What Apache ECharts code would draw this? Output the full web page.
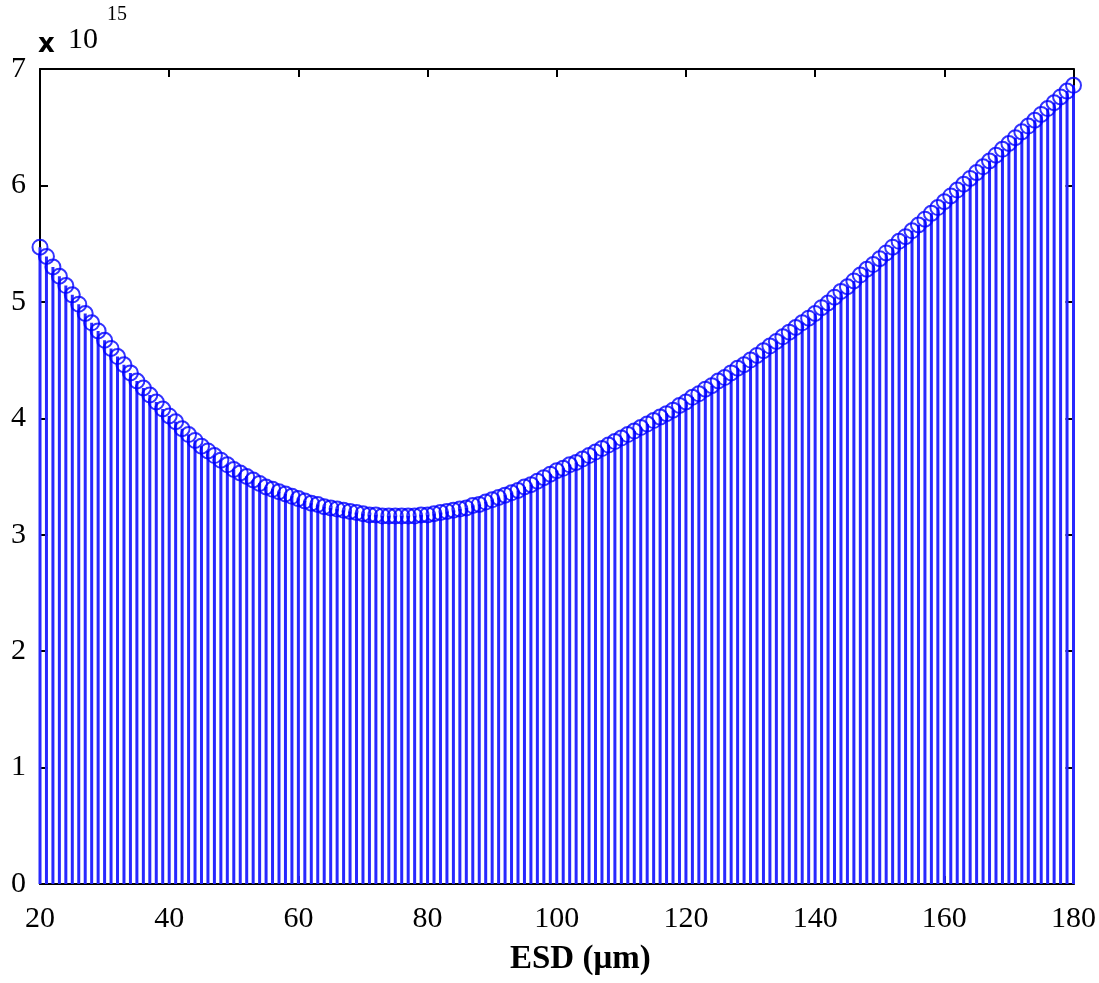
<!DOCTYPE html>
<html>
<head>
<meta charset="utf-8">
<title>ESD stem plot</title>
<script src="https://cdn.jsdelivr.net/npm/echarts@6/dist/echarts.min.js"></script>
<style>
html,body{margin:0;padding:0;background:#fff;}
#chart{width:1099px;height:983px;}
</style>
</head>
<body>
<div id="chart"></div>
<script>
// ESD (um) from 20 to 180, one stem per micron
var esdStart = 20;
// values in units of 10^15
var values = [
 5.47,5.39,5.30,5.22,5.14,5.06,4.98,4.90,4.82,4.75,
 4.67,4.60,4.53,4.46,4.39,4.32,4.26,4.20,4.14,4.08,
 4.02,3.97,3.91,3.86,3.81,3.76,3.72,3.68,3.64,3.60,
 3.56,3.53,3.50,3.47,3.44,3.41,3.39,3.37,3.35,3.33,
 3.31,3.29,3.27,3.26,3.24,3.23,3.22,3.21,3.20,3.19,
 3.18,3.17,3.17,3.16,3.16,3.16,3.16,3.16,3.16,3.17,
 3.17,3.18,3.19,3.20,3.21,3.22,3.23,3.25,3.26,3.28,
 3.30,3.32,3.34,3.36,3.38,3.41,3.43,3.46,3.49,3.52,
 3.55,3.57,3.60,3.62,3.65,3.68,3.71,3.74,3.77,3.80,
 3.83,3.86,3.89,3.92,3.95,3.98,4.01,4.04,4.07,4.11,
 4.14,4.18,4.21,4.25,4.28,4.32,4.35,4.39,4.43,4.46,
 4.50,4.54,4.58,4.62,4.66,4.70,4.74,4.78,4.82,4.86,
 4.90,4.95,4.99,5.04,5.09,5.13,5.18,5.23,5.28,5.32,
 5.37,5.42,5.47,5.52,5.56,5.61,5.66,5.71,5.76,5.81,
 5.86,5.91,5.96,6.01,6.06,6.11,6.16,6.21,6.26,6.31,
 6.36,6.41,6.46,6.51,6.56,6.61,6.66,6.71,6.76,6.81,
 6.86
];
var xTicks = [20,40,60,80,100,120,140,160,180];
var yTicks = [0,1,2,3,4,5,6,7];
var exponent = '15';
var xTitle = 'ESD (\u03bcm)';

var pts = [];
for (var i = 0; i < values.length; i++) {
  pts.push([esdStart + i, values[i]]);
}

var myChart = echarts.init(document.getElementById('chart'));
var fnt = 'Liberation Serif';
var axisLine = {show:true, onZero:false, lineStyle:{color:'#000', width:2}};
var tick = {show:true, inside:true, length:8, lineStyle:{color:'#000', width:2}};
var lbl = {color:'#000', fontFamily:fnt, fontSize:30};
var option = {
  animation:false,
  grid:{left:40, right:25, top:69, bottom:99, containLabel:false},
  xAxis:[
    {type:'value', min:xTicks[0], max:xTicks[xTicks.length-1], interval:20,
     axisLine:axisLine, axisTick:tick,
     axisLabel:Object.assign({margin:20}, lbl),
     splitLine:{show:false}},
    {type:'value', position:'top', min:xTicks[0], max:xTicks[xTicks.length-1], interval:20,
     axisLine:axisLine, axisTick:tick,
     axisLabel:{show:false}, splitLine:{show:false}}
  ],
  yAxis:[
    {type:'value', min:yTicks[0], max:yTicks[yTicks.length-1], interval:1,
     axisLine:axisLine, axisTick:tick,
     axisLabel:Object.assign({margin:14}, lbl),
     splitLine:{show:false}},
    {type:'value', position:'right', min:yTicks[0], max:yTicks[yTicks.length-1], interval:1,
     axisLine:axisLine, axisTick:tick,
     axisLabel:{show:false}, splitLine:{show:false}}
  ],
  graphic:[
    {type:'text', left:38, top:32, style:{text:'x', font:'bold 26px "DejaVu Sans"', fill:'#000'}},
    {type:'text', left:68, top:25, style:{text:'10', font:'30px "Liberation Serif"', fill:'#000'}},
    {type:'text', left:107, top:5, style:{text:exponent, font:'20px "Liberation Serif"', fill:'#000'}},
    {type:'text', left:510, top:943, style:{text:xTitle, font:'bold 33px "Liberation Serif"', fill:'#000'}}
  ],
  series:[
    {type:'bar', data:pts, barWidth:3, itemStyle:{color:'#2828ff'}, silent:true, z:2},
    {type:'scatter', data:pts, symbol:'circle', symbolSize:15,
     itemStyle:{color:'rgba(0,0,0,0)', borderColor:'#0000ff', borderWidth:2}, silent:true, z:3}
  ]
};
myChart.setOption(option);
</script>
</body>
</html>
